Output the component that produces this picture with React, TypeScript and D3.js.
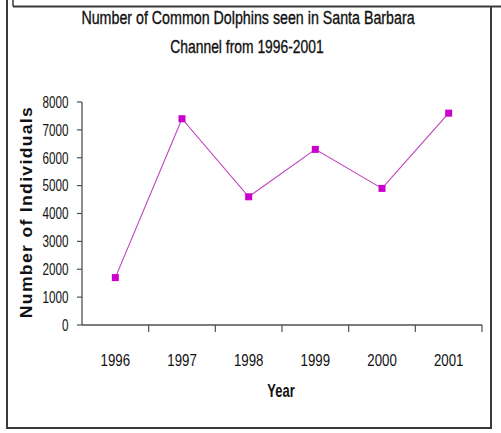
import React from 'react';
import * as d3 from 'd3';

const years = ['1996', '1997', '1998', '1999', '2000', '2001'];
const counts = [1700, 7400, 4600, 6300, 4900, 7600];
const yTicks = [0, 1000, 2000, 3000, 4000, 5000, 6000, 7000, 8000];
const titleLines = ['Number of Common Dolphins seen in Santa Barbara', 'Channel from 1996-2001'];

const W = 501;
const H = 433;
const sans = '"Liberation Sans", Arial, sans-serif';

// Text squeezed horizontally to get a narrow face from a regular sans.
function Narrow(props: {
  x: number;
  y: number;
  sx: number;
  size: number;
  anchor?: 'start' | 'middle' | 'end';
  bold?: boolean;
  heavy?: boolean;
  rotate?: number;
  spacing?: number;
  dy?: string;
  children: React.ReactNode;
}) {
  const { x, y, sx, size, anchor = 'middle', bold, heavy, rotate = 0, spacing, dy, children } = props;
  return (
    <g transform={`translate(${x},${y}) rotate(${rotate}) scale(${sx},1)`}>
      <text
        x={0}
        y={0}
        dy={dy}
        textAnchor={anchor}
        fontFamily={sans}
        fontSize={size}
        fontWeight={bold ? 'bold' : 'normal'}
        letterSpacing={spacing}
        fill="#111"
        stroke={heavy ? '#111' : 'none'}
        strokeWidth={heavy ? 0.35 : 0}
      >
        {children}
      </text>
    </g>
  );
}

export default function App() {
  const x = d3.scaleBand<string>().domain(years).range([82, 482]);
  const y = d3.scaleLinear().domain([0, 8000]).range([325, 102]);
  const cx = (yr: string) => (x(yr) ?? 0) + x.bandwidth() / 2;

  const line = d3
    .line<number>()
    .x((_, i) => cx(years[i]))
    .y((v) => y(v));

  const lineColor = '#bf3fbd';
  const markColor = '#cc00cc';
  const frame = '#3a3a3a';
  const axis = '#505050';

  return (
    <svg
      width={W}
      height={H}
      viewBox={`0 0 ${W} ${H}`}
      style={{ position: 'absolute', left: 0, top: 0, background: '#fff' }}
    >
      <rect x={0} y={0} width={W} height={H} fill="#fff" />
      {/* outer frames */}
      <line x1={13} y1={6.5} x2={W} y2={6.5} stroke={frame} strokeWidth={2} />
      <line x1={13} y1={0} x2={13} y2={6.5} stroke={frame} strokeWidth={1.5} />
      <line x1={7} y1={0} x2={7} y2={428} stroke={frame} strokeWidth={2} />
      <line x1={6} y1={428} x2={492} y2={428} stroke={frame} strokeWidth={2} />
      <line x1={491} y1={7} x2={491} y2={429} stroke={frame} strokeWidth={2} />

      {/* title */}
      <Narrow x={248} y={24} sx={0.77} size={18.5} heavy>
        {titleLines[0]}
      </Narrow>
      <Narrow x={247} y={53} sx={0.75} size={18.5} heavy>
        {titleLines[1]}
      </Narrow>

      {/* y axis */}
      <line x1={82} y1={y(8000)} x2={82} y2={y(0)} stroke={axis} strokeWidth={1.3} />
      {yTicks.map((t) => (
        <g key={t}>
          <line x1={77} x2={82} y1={y(t)} y2={y(t)} stroke={axis} strokeWidth={1.2} />
          <Narrow x={68.5} y={y(t)} dy="0.36em" sx={0.73} size={16} anchor="end">
            {t}
          </Narrow>
        </g>
      ))}
      <Narrow x={32} y={212} rotate={-90} sx={1.1} size={16} spacing={1.2} bold>
        Number of Individuals
      </Narrow>

      {/* x axis */}
      <line x1={82} y1={y(0)} x2={482} y2={y(0)} stroke={axis} strokeWidth={1.6} />
      {years.map((yr) => (
        <g key={yr}>
          <line
            x1={(x(yr) ?? 0) + x.bandwidth()}
            x2={(x(yr) ?? 0) + x.bandwidth()}
            y1={y(0)}
            y2={y(0) + 7}
            stroke={axis}
            strokeWidth={1.2}
          />
          <Narrow x={cx(yr)} y={366} sx={0.78} size={17}>
            {yr}
          </Narrow>
        </g>
      ))}
      <Narrow x={281} y={397} sx={0.74} size={17.5} bold>
        Year
      </Narrow>

      {/* series */}
      <path d={line(counts) ?? ''} fill="none" stroke={lineColor} strokeWidth={1.1} />
      {counts.map((v, i) => (
        <rect
          key={years[i]}
          x={cx(years[i]) - 3.5}
          y={y(v) - 3.5}
          width={7}
          height={7}
          fill={markColor}
        />
      ))}
    </svg>
  );
}
